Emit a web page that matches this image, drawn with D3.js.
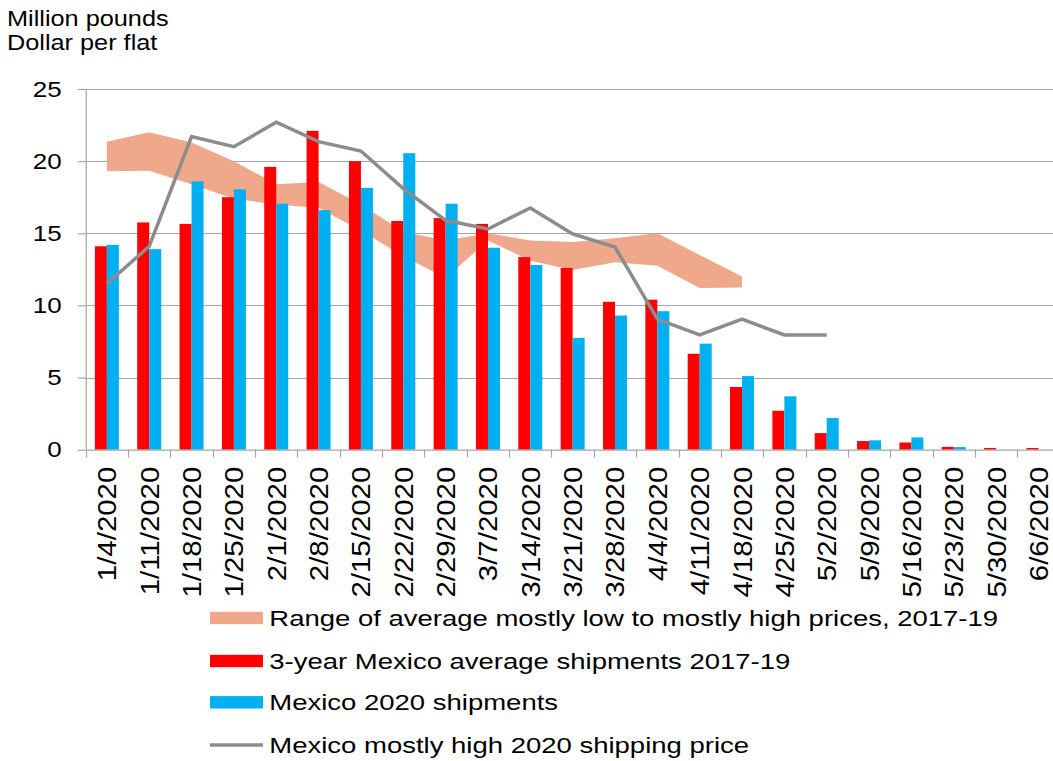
<!DOCTYPE html>
<html>
<head>
<meta charset="utf-8">
<script src="https://cdn.jsdelivr.net/npm/d3@7"></script>
<style>
  html, body { margin: 0; padding: 0; background: #fff; overflow: hidden; }
  svg { display: block; font-family: "Liberation Sans", Arial, sans-serif; }
</style>
</head>
<body>
<svg width="1053" height="761"></svg>
<script>
// Chart data
const weeks = ["1/4/2020", "1/11/2020", "1/18/2020", "1/25/2020", "2/1/2020", "2/8/2020", "2/15/2020",
  "2/22/2020", "2/29/2020", "3/7/2020", "3/14/2020", "3/21/2020", "3/28/2020", "4/4/2020", "4/11/2020",
  "4/18/2020", "4/25/2020", "5/2/2020", "5/9/2020", "5/16/2020", "5/23/2020", "5/30/2020", "6/6/2020"];
const avgShipments = [14.1, 15.75, 15.65, 17.5, 19.6, 22.1, 20.0, 15.85, 16.05, 15.65, 13.35, 12.6,
  10.25, 10.4, 6.65, 4.35, 2.7, 1.15, 0.6, 0.5, 0.2, 0.12, 0.12];
const shipments2020 = [14.2, 13.9, 18.6, 18.05, 17.05, 16.6, 18.15, 20.55, 17.05, 14.0, 12.8, 7.75,
  9.3, 9.6, 7.35, 5.1, 3.7, 2.2, 0.65, 0.85, 0.18, 0, 0];
const priceHigh2020 = [11.5, 14.1, 21.7, 21.0, 22.7, 21.35, 20.7, 18.1, 15.9, 15.3, 16.75, 14.95,
  14.05, 9.05, 7.95, 9.05, 7.95, 7.95];
const rangeLow = [19.3, 19.33, 18.4, 17.4, 17.0, 16.75, 15.2, 13.4, 11.9, 14.5, 13.1, 12.45, 13.0, 12.75, 11.2, 11.25];
const rangeHigh = [21.35, 22.0, 21.3, 20.0, 18.4, 18.55, 17.0, 15.1, 14.5, 15.0, 14.5, 14.4, 14.65, 15.0, 13.5, 12.0];
const yTicks = [0, 5, 10, 15, 20, 25];
const legendItems = [
  { key: "range", label: "Range of average mostly low to mostly high prices, 2017-19" },
  { key: "avg", label: "3-year Mexico average shipments 2017-19" },
  { key: "y2020", label: "Mexico 2020 shipments" },
  { key: "price", label: "Mexico mostly high 2020 shipping price" }
];

// Config
const COLORS = { range: "#f0a88a", avg: "#ff0000", y2020: "#00b0f0", price: "#8c8c8c" };
const GRID = "#a6a6a6";
const SX = 1.18; // text in the source is drawn wide
const plotLeft = 85.7, plotRight = 1059.6, plotTop = 89, plotBottom = 449.7;

const svg = d3.select("svg");

const x = d3.scaleBand().domain(weeks).range([plotLeft, plotRight]).padding(0);
const cx = (d) => x(d) + x.bandwidth() / 2;
const sub = d3.scaleBand().domain(["avg", "y2020"]).range([-12, 12]);
const y = d3.scaleLinear().domain([0, 25]).range([plotBottom, plotTop]);

const wideText = (g, px, py, str, sx) =>
  g.append("text")
    .attr("transform", `translate(${px},${py}) scale(${sx || SX},1)`)
    .attr("font-size", 22)
    .attr("fill", "#000")
    .text(str);

// Gridlines
svg.append("g").selectAll("line").data(yTicks.filter((t) => t > 0)).join("line")
  .attr("x1", plotLeft).attr("x2", plotRight)
  .attr("y1", (d) => Math.round(y(d)) + 0.5).attr("y2", (d) => Math.round(y(d)) + 0.5)
  .attr("stroke", GRID).attr("stroke-width", 1.2);

// Price range band
const area = d3.area()
  .x((d, i) => cx(weeks[i]))
  .y0((d) => y(d[0]))
  .y1((d) => y(d[1]));
svg.append("path")
  .datum(d3.zip(rangeLow, rangeHigh))
  .attr("d", area)
  .attr("fill", COLORS.range);

// Bars
const bars = svg.append("g");
bars.selectAll(".avg").data(avgShipments).join("rect")
  .attr("x", (d, i) => cx(weeks[i]) + sub("avg"))
  .attr("width", sub.bandwidth())
  .attr("y", (d) => y(d)).attr("height", (d) => y(0) - y(d))
  .attr("fill", COLORS.avg);
bars.selectAll(".y2020").data(shipments2020).join("rect")
  .attr("x", (d, i) => cx(weeks[i]) + sub("y2020"))
  .attr("width", sub.bandwidth())
  .attr("y", (d) => y(d)).attr("height", (d) => y(0) - y(d))
  .attr("fill", COLORS.y2020);

// Price line
const line = d3.line()
  .x((d, i) => cx(weeks[i]))
  .y((d) => y(d));
svg.append("path")
  .datum(priceHigh2020)
  .attr("d", line)
  .attr("fill", "none")
  .attr("stroke", COLORS.price)
  .attr("stroke-width", 3.5)
  .attr("stroke-linejoin", "miter");

// Y axis
const yAxis = svg.append("g")
  .attr("transform", `translate(${plotLeft},0)`)
  .call(d3.axisLeft(y).tickValues(yTicks).tickSize(8).tickSizeOuter(0));
yAxis.select(".domain").attr("stroke", GRID).attr("stroke-width", 1.2);
yAxis.selectAll(".tick line").attr("stroke", GRID).attr("stroke-width", 1.2);
yAxis.selectAll(".tick text")
  .attr("x", null).attr("dy", null)
  .attr("font-size", 22)
  .attr("fill", "#000")
  .attr("font-family", "Liberation Sans, Arial, sans-serif")
  .attr("text-anchor", "end")
  .attr("transform", `translate(-24,7) scale(${SX},1)`);

// X axis
const xAxis = svg.append("g")
  .attr("transform", `translate(0,${plotBottom})`)
  .call(d3.axisBottom(x).tickSize(0).tickSizeOuter(0));
xAxis.select(".domain").attr("stroke", GRID).attr("stroke-width", 1.2);
xAxis.selectAll(".tick text")
  .attr("y", null).attr("dy", null)
  .attr("font-size", 26.5)
  .attr("fill", "#000")
  .attr("font-family", "Liberation Sans, Arial, sans-serif")
  .attr("text-anchor", "end")
  .attr("transform", "translate(9.5,17) rotate(-90) scale(1.11,1)");

const boundaries = weeks.map((w) => x(w)).concat([plotRight]);
xAxis.append("g").selectAll("line").data(boundaries).join("line")
  .attr("x1", (d) => Math.round(d) + 0.5).attr("x2", (d) => Math.round(d) + 0.5)
  .attr("y1", 0).attr("y2", 8)
  .attr("stroke", GRID).attr("stroke-width", 1.2);

// Axis titles
wideText(svg, 7, 26, "Million pounds", 1.15);
wideText(svg, 7, 50, "Dollar per flat", 1.15);

// Legend
const legend = svg.append("g");
const rowY = [618, 661, 702.3, 745];
legendItems.forEach((item, i) => {
  if (item.key === "price") {
    legend.append("line")
      .attr("x1", 210).attr("x2", 263)
      .attr("y1", rowY[i]).attr("y2", rowY[i])
      .attr("stroke", COLORS.price).attr("stroke-width", 3.5);
  } else {
    legend.append("rect")
      .attr("x", 210).attr("y", rowY[i] - 6.2)
      .attr("width", 53).attr("height", 12.4)
      .attr("fill", COLORS[item.key]);
  }
  wideText(legend, 269.3, rowY[i] + 8, item.label, 1.25);
});
</script>
</body>
</html>
